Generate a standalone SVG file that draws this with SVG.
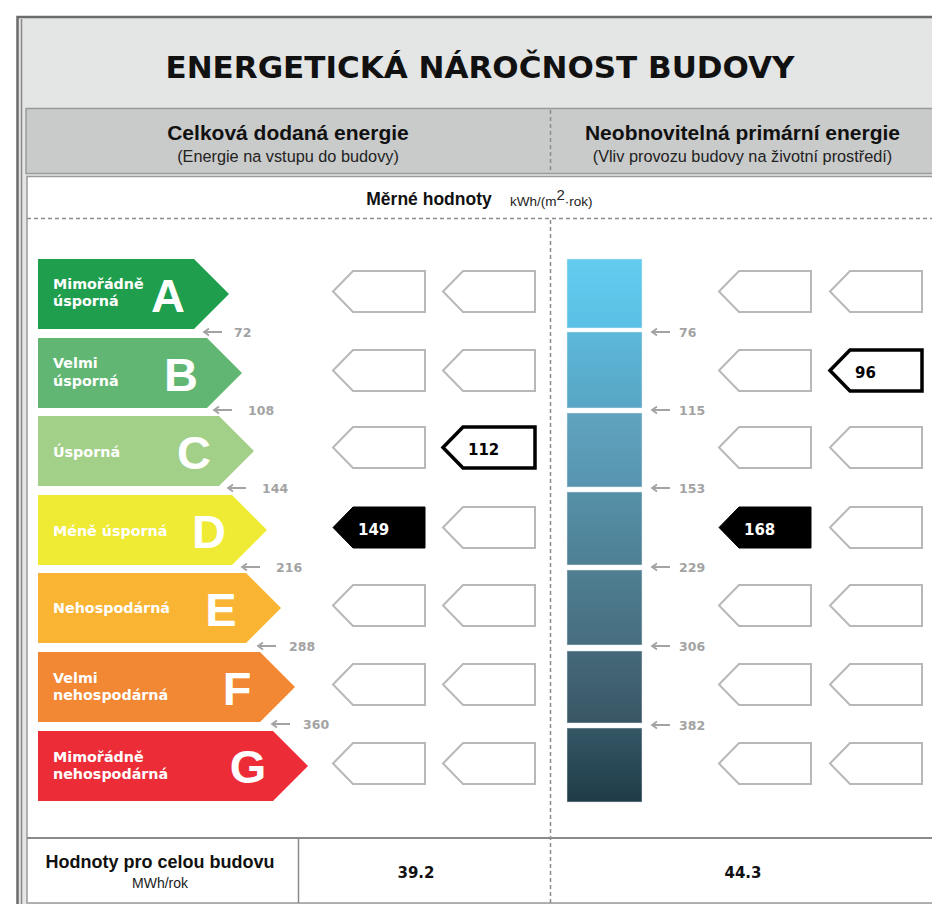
<svg xmlns="http://www.w3.org/2000/svg" xmlns:xlink="http://www.w3.org/1999/xlink" width="932" height="904" viewBox="0 0 932 904">
<defs>
<style>
.ttl{font-family:"DejaVu Sans",sans-serif;font-weight:bold;fill:#111}
.hd{font-family:"Liberation Sans",Arial,sans-serif;font-weight:bold;fill:#111;text-anchor:middle}
.sub{font-family:"Liberation Sans",Arial,sans-serif;fill:#222;text-anchor:middle}
.dash{stroke:#8c8c8c;stroke-width:1.5;stroke-dasharray:4 3;fill:none}
.desc{font-family:"DejaVu Sans",sans-serif;font-weight:bold;font-size:14.3px;fill:#fff}
.big{font-family:"Liberation Sans",Arial,sans-serif;font-weight:bold;font-size:47px;fill:#fff;text-anchor:middle}
.thr{font-family:"DejaVu Sans",sans-serif;font-weight:bold;font-size:12.5px;fill:#a3a3a3}
.arr{stroke:#a3a3a3;stroke-width:1.8;fill:none}
.pe{fill:#fff;stroke:#b8b8b8;stroke-width:2}
.ps{fill:#fff;stroke:#000;stroke-width:3.5}
.pf{fill:#000;stroke:#000;stroke-width:1}
.pv{font-family:"DejaVu Sans",sans-serif;font-weight:bold;font-size:15px}
.tot{font-family:"DejaVu Sans",sans-serif;font-weight:bold;font-size:15px;fill:#111;text-anchor:middle}
.seg{stroke:#e8eef0;stroke-opacity:0.5;stroke-width:1}
</style>
<path id="ptr" d="M0,20.5 L20,0 L92,0 L92,41 L20,41 Z"/>
<linearGradient id="g1" x1="0" y1="0" x2="0" y2="1"><stop offset="0" stop-color="#63ccef"/><stop offset="1" stop-color="#5ac0e5"/></linearGradient>
<linearGradient id="g2" x1="0" y1="0" x2="0" y2="1"><stop offset="0" stop-color="#5cb8da"/><stop offset="1" stop-color="#58a5c4"/></linearGradient>
<linearGradient id="g3" x1="0" y1="0" x2="0" y2="1"><stop offset="0" stop-color="#5fa4c0"/><stop offset="1" stop-color="#5894ae"/></linearGradient>
<linearGradient id="g4" x1="0" y1="0" x2="0" y2="1"><stop offset="0" stop-color="#5591a9"/><stop offset="1" stop-color="#4e7f93"/></linearGradient>
<linearGradient id="g5" x1="0" y1="0" x2="0" y2="1"><stop offset="0" stop-color="#4f7f92"/><stop offset="1" stop-color="#466e7f"/></linearGradient>
<linearGradient id="g6" x1="0" y1="0" x2="0" y2="1"><stop offset="0" stop-color="#45697a"/><stop offset="1" stop-color="#395664"/></linearGradient>
<linearGradient id="g7" x1="0" y1="0" x2="0" y2="1"><stop offset="0" stop-color="#355766"/><stop offset="1" stop-color="#1f3b47"/></linearGradient>
</defs>

<rect width="932" height="904" fill="#fff"/>

<g id="frame">
<rect x="17.5" y="17" width="940" height="900" fill="#e4e5e5" stroke="#6b6b6b" stroke-width="2.5"/>
<line x1="21.5" y1="19" x2="21.5" y2="904" stroke="#8a8a8a" stroke-width="1.5"/>
</g>

<g id="title">
<text class="ttl" x="480" y="78" font-size="31" text-anchor="middle">ENERGETICKÁ NÁROČNOST BUDOVY</text>
</g>

<g id="header">
<rect x="26" y="108.5" width="920" height="65" fill="#c9caca" stroke="#9a9a9a" stroke-width="1.5"/>
<line class="dash" x1="550.5" y1="110" x2="550.5" y2="173"/>
<text class="hd" x="288" y="140" font-size="21">Celková dodaná energie</text>
<text class="sub" x="288" y="162" font-size="16.3">(Energie na vstupu do budovy)</text>
<text class="hd" x="742.5" y="140" font-size="21">Neobnovitelná primární energie</text>
<text class="sub" x="742.5" y="162" font-size="16.3">(Vliv provozu budovy na životní prostředí)</text>
</g>

<g id="panel">
<rect x="27" y="176.5" width="920" height="726.5" fill="#fff" stroke="#9a9a9a" stroke-width="1.5"/>
<text class="hd" x="429" y="205" font-size="17.5">Měrné hodnoty</text>
<text x="510" y="206" font-family="Liberation Sans, Arial, sans-serif" font-size="13.5" fill="#222">kWh/(m<tspan dy="-6" font-size="15">2</tspan><tspan dy="6">·rok)</tspan></text>
<line class="dash" x1="27" y1="218.5" x2="932" y2="218.5"/>
<line class="dash" x1="550.5" y1="220" x2="550.5" y2="903"/>
<line x1="27" y1="838" x2="932" y2="838" stroke="#8a8a8a" stroke-width="2"/>
<line x1="298.5" y1="838" x2="298.5" y2="903" stroke="#8a8a8a" stroke-width="1.5"/>
</g>

<g id="classA">
<polygon points="38,259 194,259 229,294 194,329 38,329" fill="#1f9e4e"/>
<text class="desc" x="53" y="289">Mimořádně</text>
<text class="desc" x="53" y="306">úsporná</text>
<text class="big" x="168" y="312">A</text>
</g>
<g id="classB">
<polygon points="38,338 207,338 242,373 207,408 38,408" fill="#62b673"/>
<text class="desc" x="53" y="368">Velmi</text>
<text class="desc" x="53" y="386">úsporná</text>
<text class="big" x="181" y="391">B</text>
</g>
<g id="classC">
<polygon points="38,416 219,416 254,451 219,486 38,486" fill="#a2d089"/>
<text class="desc" x="53" y="457">Úsporná</text>
<text class="big" x="194" y="469">C</text>
</g>
<g id="classD">
<polygon points="38,495 232,495 267,530 232,565 38,565" fill="#efea33"/>
<text class="desc" x="53" y="536">Méně úsporná</text>
<text class="big" x="209" y="548">D</text>
</g>
<g id="classE">
<polygon points="38,573 246,573 281,608 246,643 38,643" fill="#fab433"/>
<text class="desc" x="53" y="613">Nehospodárná</text>
<text class="big" x="221" y="626">E</text>
</g>
<g id="classF">
<polygon points="38,652 260,652 295,687 260,722 38,722" fill="#f28734"/>
<text class="desc" x="53" y="683">Velmi</text>
<text class="desc" x="53" y="700">nehospodárná</text>
<text class="big" x="237" y="705">F</text>
</g>
<g id="classG">
<polygon points="38,731 273,731 308,766 273,801 38,801" fill="#ec2d38"/>
<text class="desc" x="53" y="762">Mimořádně</text>
<text class="desc" x="53" y="779">nehospodárná</text>
<text class="big" x="248" y="783">G</text>
</g>

<g id="primaryBar">
<rect class="seg" x="567" y="259" width="75" height="69" fill="url(#g1)"/>
<rect class="seg" x="567" y="332" width="75" height="76" fill="url(#g2)"/>
<rect class="seg" x="567" y="413" width="75" height="74" fill="url(#g3)"/>
<rect class="seg" x="567" y="492" width="75" height="73" fill="url(#g4)"/>
<rect class="seg" x="567" y="570" width="75" height="75" fill="url(#g5)"/>
<rect class="seg" x="567" y="651" width="75" height="72" fill="url(#g6)"/>
<rect class="seg" x="567" y="728" width="75" height="74" fill="url(#g7)"/>
</g>

<g id="connectors">
<path class="arr" d="M222,332 H204 M209,328.5 L204,332 L209,335.5"/>
<path class="arr" d="M232,410 H214 M219,406.5 L214,410 L219,413.5"/>
<path class="arr" d="M246,488 H228 M233,484.5 L228,488 L233,491.5"/>
<path class="arr" d="M260,567 H242 M247,563.5 L242,567 L247,570.5"/>
<path class="arr" d="M276,646 H258 M263,642.5 L258,646 L263,649.5"/>
<path class="arr" d="M290,724 H272 M277,720.5 L272,724 L277,727.5"/>
<path class="arr" d="M670,332 H652 M657,328.5 L652,332 L657,335.5"/>
<path class="arr" d="M670,410 H652 M657,406.5 L652,410 L657,413.5"/>
<path class="arr" d="M670,488 H652 M657,484.5 L652,488 L657,491.5"/>
<path class="arr" d="M670,567 H652 M657,563.5 L652,567 L657,570.5"/>
<path class="arr" d="M670,646 H652 M657,642.5 L652,646 L657,649.5"/>
<path class="arr" d="M670,725 H652 M657,721.5 L652,725 L657,728.5"/>
</g>

<g id="thresholds">
<text class="thr" x="234" y="336.5">72</text>
<text class="thr" x="248" y="414.5">108</text>
<text class="thr" x="262" y="492.5">144</text>
<text class="thr" x="276" y="571.5">216</text>
<text class="thr" x="289" y="650.5">288</text>
<text class="thr" x="303" y="728.5">360</text>
<text class="thr" x="679" y="336.5">76</text>
<text class="thr" x="679" y="414.5">115</text>
<text class="thr" x="679" y="492.5">153</text>
<text class="thr" x="679" y="571.5">229</text>
<text class="thr" x="679" y="650.5">306</text>
<text class="thr" x="679" y="729.5">382</text>
</g>

<g id="pointersLeft1">
<use xlink:href="#ptr" href="#ptr" class="pe" x="333" y="271"/>
<use xlink:href="#ptr" href="#ptr" class="pe" x="333" y="350"/>
<use xlink:href="#ptr" href="#ptr" class="pe" x="333" y="427"/>
<use xlink:href="#ptr" href="#ptr" class="pf" x="333" y="507"/>
<text class="pv" x="358" y="535" fill="#fff">149</text>
<use xlink:href="#ptr" href="#ptr" class="pe" x="333" y="585"/>
<use xlink:href="#ptr" href="#ptr" class="pe" x="333" y="664"/>
<use xlink:href="#ptr" href="#ptr" class="pe" x="333" y="743"/>
</g>
<g id="pointersLeft2">
<use xlink:href="#ptr" href="#ptr" class="pe" x="443" y="271"/>
<use xlink:href="#ptr" href="#ptr" class="pe" x="443" y="350"/>
<use xlink:href="#ptr" href="#ptr" class="ps" x="443" y="427"/>
<text class="pv" x="468" y="455" fill="#000">112</text>
<use xlink:href="#ptr" href="#ptr" class="pe" x="443" y="507"/>
<use xlink:href="#ptr" href="#ptr" class="pe" x="443" y="585"/>
<use xlink:href="#ptr" href="#ptr" class="pe" x="443" y="664"/>
<use xlink:href="#ptr" href="#ptr" class="pe" x="443" y="743"/>
</g>
<g id="pointersRight1">
<use xlink:href="#ptr" href="#ptr" class="pe" x="719" y="271"/>
<use xlink:href="#ptr" href="#ptr" class="pe" x="719" y="350"/>
<use xlink:href="#ptr" href="#ptr" class="pe" x="719" y="427"/>
<use xlink:href="#ptr" href="#ptr" class="pf" x="719" y="507"/>
<text class="pv" x="744" y="535" fill="#fff">168</text>
<use xlink:href="#ptr" href="#ptr" class="pe" x="719" y="585"/>
<use xlink:href="#ptr" href="#ptr" class="pe" x="719" y="664"/>
<use xlink:href="#ptr" href="#ptr" class="pe" x="719" y="743"/>
</g>
<g id="pointersRight2">
<use xlink:href="#ptr" href="#ptr" class="pe" x="830" y="271"/>
<use xlink:href="#ptr" href="#ptr" class="ps" x="830" y="350"/>
<text class="pv" x="855" y="378" fill="#000">96</text>
<use xlink:href="#ptr" href="#ptr" class="pe" x="830" y="427"/>
<use xlink:href="#ptr" href="#ptr" class="pe" x="830" y="507"/>
<use xlink:href="#ptr" href="#ptr" class="pe" x="830" y="585"/>
<use xlink:href="#ptr" href="#ptr" class="pe" x="830" y="664"/>
<use xlink:href="#ptr" href="#ptr" class="pe" x="830" y="743"/>
</g>

<g id="totals">
<text class="hd" x="160" y="868" font-size="18">Hodnoty pro celou budovu</text>
<text class="sub" x="160" y="888" font-size="14">MWh/rok</text>
<text class="tot" x="416" y="878">39.2</text>
<text class="tot" x="743" y="878">44.3</text>
</g>
</svg>
